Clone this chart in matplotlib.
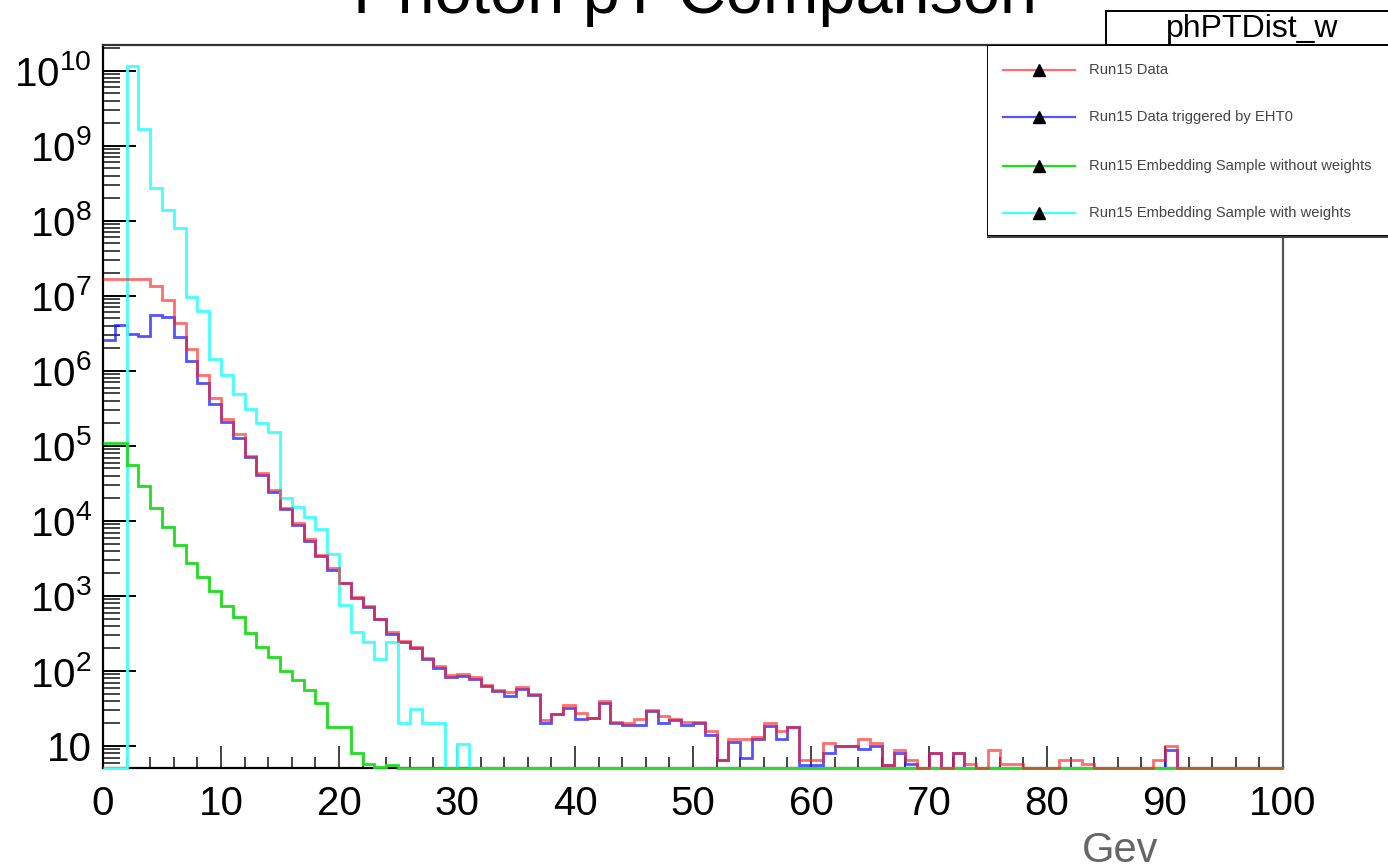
import matplotlib
matplotlib.use('Agg')
import matplotlib.pyplot as plt
import matplotlib.patches as mplpatches
import matplotlib.ticker as ticker
import numpy as np

plt.rcParams['font.family'] = ['Liberation Sans', 'DejaVu Sans']
plt.rcParams['mathtext.fontset'] = 'custom'
plt.rcParams['mathtext.rm'] = 'Liberation Sans'
plt.rcParams['mathtext.it'] = 'Liberation Sans:italic'

# 1 GeV bins from 0 to 100
binEdges = np.arange(0, 101, 1)

run15Data = [1.7e7, 1.7e7, 1.7e7, 1.7e7, 1.35e7, 8.7e6, 4.3e6, 1.95e6, 8.7e5, 4.4e5,
             2.3e5, 1.45e5, 7.4e4, 4.3e4, 2.6e4, 1.5e4, 9300, 5750, 3550, 2340,
             1510, 980, 740, 500, 331, 251, 209, 151, 115, 89,
             91, 83, 65, 56, 52, 62, 50, 22, 27, 35,
             28, 24, 40, 21, 20, 23, 30, 25, 23, 21,
             21, 16, 6.6, 12.3, 12.3, 13.2, 20, 16, 18, 6.6,
             6.6, 11, 10, 10, 12.3, 11, 5.6, 8.9, 6.5, 0,
             8, 0, 8, 5.8, 0, 8.9, 5.8, 5.8, 0, 0,
             0, 6.6, 6.6, 5.8, 0, 0, 0, 0, 0, 6.6,
             10, 0, 0, 0, 0, 0, 0, 0, 0, 0]

run15EHT0 = [2.6e6, 4.1e6, 3.1e6, 2.95e6, 5.6e6, 5.25e6, 2.8e6, 1.35e6, 6.9e5, 3.6e5,
             2.1e5, 1.26e5, 7.2e4, 4.1e4, 2.4e4, 1.45e4, 8900, 5400, 3400, 2240,
             1480, 930, 710, 490, 316, 245, 200, 145, 110, 83,
             85, 78, 63, 54, 47, 58, 48, 20, 27, 32,
             23, 24, 38, 20, 19, 19, 29, 20, 22, 19,
             20, 14, 6.6, 11.5, 6.9, 12.3, 18.6, 12.6, 18, 5.6,
             5.6, 8, 10, 10, 9.1, 10, 5.6, 8, 5.8, 0,
             8, 0, 8, 0, 0, 0, 0, 0, 0, 0,
             0, 0, 0, 0, 0, 0, 0, 0, 0, 0,
             8.9, 0, 0, 0, 0, 0, 0, 0, 0, 0]

embedNoWeight = [1.1e5, 1.1e5, 5.6e4, 2.9e4, 1.5e4, 8300, 4800, 2750, 1800, 1170,
                 740, 525, 320, 210, 155, 100, 76, 56, 37, 18,
                 18, 8, 5.8, 5.2, 5.6] + [0] * 75

embedWeight = [0, 0, 1.17e10, 1.66e9, 2.75e8, 1.4e8, 8.1e7, 9.5e6, 6.2e6, 1.45e6,
               8.7e5, 4.9e5, 3.1e5, 2.0e5, 1.55e5, 2.05e4, 1.55e4, 1.12e4, 7800, 3600,
               760, 330, 240, 145, 240, 20, 31, 20, 20, 0,
               10.7] + [0] * 69

labels = ['Run15 Data', 'Run15 Data triggered by EHT0',
          'Run15 Embedding Sample without weights', 'Run15 Embedding Sample with weights']
colors = ['#ff2020', '#1a1aff', '#22dd22', '#44ffff']
alphas = [0.65, 0.75, 1.0, 1.0]

yMin = 5.1
yMax = 2.2e10
yDecades = [10.0 ** k for k in range(1, 11)]

figureWidth = 13.88
figureHeight = 8.65
fig = plt.figure(figsize=(figureWidth, figureHeight), dpi=100)

mainPanel = fig.add_axes([103/1388, 1-768/865, 1180/1388, 723/865])
mainPanel.set_yscale('log')
mainPanel.set_xlim(0, 100)
mainPanel.set_ylim(yMin, yMax)

# draw order: blue, cyan, green, red on top (semi transparent)
series = [run15Data, run15EHT0, embedNoWeight, embedWeight]
for idx in [1, 3, 2, 0]:
    vals = np.clip(np.array(series[idx], dtype=float), yMin, None)
    mainPanel.stairs(vals, binEdges, baseline=None, color=colors[idx],
                     alpha=alphas[idx], linewidth=2.0, clip_on=False, zorder=3)

# ROOT-like axes
def rootLog(val, pos):
    exponent = int(round(np.log10(val)))
    if exponent == 1:
        return '10'
    return r'$\mathregular{10^{%d}}$' % exponent

mainPanel.yaxis.set_major_locator(ticker.FixedLocator(yDecades))
mainPanel.yaxis.set_minor_locator(ticker.LogLocator(base=10, subs=np.arange(2, 10), numticks=20))
mainPanel.yaxis.set_major_formatter(ticker.FuncFormatter(rootLog))
mainPanel.yaxis.set_minor_formatter(ticker.NullFormatter())
mainPanel.xaxis.set_major_locator(ticker.MultipleLocator(10))
mainPanel.xaxis.set_minor_locator(ticker.MultipleLocator(2))

mainPanel.tick_params(axis='y', which='major', direction='in', length=24, width=1.4,
                      labelsize=29, pad=8, right=False)
mainPanel.tick_params(axis='y', which='minor', direction='in', length=12, width=1.4,
                      color='#444444', right=False)
mainPanel.tick_params(axis='x', which='major', direction='in', length=16, width=1.4,
                      labelsize=29, pad=12, top=False, color='#444444')
mainPanel.tick_params(axis='x', which='minor', direction='in', length=8, width=1.4,
                      color='#444444', top=False)
for side in ['left', 'bottom', 'top', 'right']:
    mainPanel.spines[side].set_linewidth(1.6)
mainPanel.spines['top'].set_color('#333333')
mainPanel.spines['right'].set_color('#555555')

fig.text(1120/1388, 1-862/865, 'Gev', fontsize=30, color='#666666',
         ha='center', va='baseline')

# title, cut off by the top edge
fig.text(695/1388, 1-13/865, 'Photon pT Comparison', fontsize=48,
         ha='center', va='baseline')

# stats box
fig.add_artist(mplpatches.Rectangle((1106/1388, 1-45/865), 300/1388, 34/865,
                                    transform=fig.transFigure, facecolor='white',
                                    edgecolor='black', linewidth=1.4, zorder=5))
fig.text(1252/1388, 1-29/865, 'phPTDist_w', fontsize=23, ha='center', va='center',
         zorder=6)

# legend box
legPanel = fig.add_axes([987/1388, 1-238/865, 420/1388, 193/865], zorder=10)
legPanel.set_xlim(0, 420)
legPanel.set_ylim(193, 0)
legPanel.axis('off')
legPanel.add_patch(mplpatches.Rectangle((0, 0), 420, 191, facecolor='white',
                                        edgecolor='black', linewidth=1.4))
legPanel.plot([0, 420], [192, 192], color='#444444', linewidth=2.2)
entryY = [25, 72, 121, 168]
for i in range(4):
    legPanel.plot([16, 88], [entryY[i], entryY[i]], color=colors[i], alpha=alphas[i],
                  linewidth=1.6)
    legPanel.plot([52], [entryY[i]], marker='^', markersize=9, color='black',
                  linestyle='none')
    legPanel.text(102, entryY[i], labels[i], fontsize=10.6, color='#444444',
                  va='center', ha='left')

plt.savefig('out.png', dpi=100)
